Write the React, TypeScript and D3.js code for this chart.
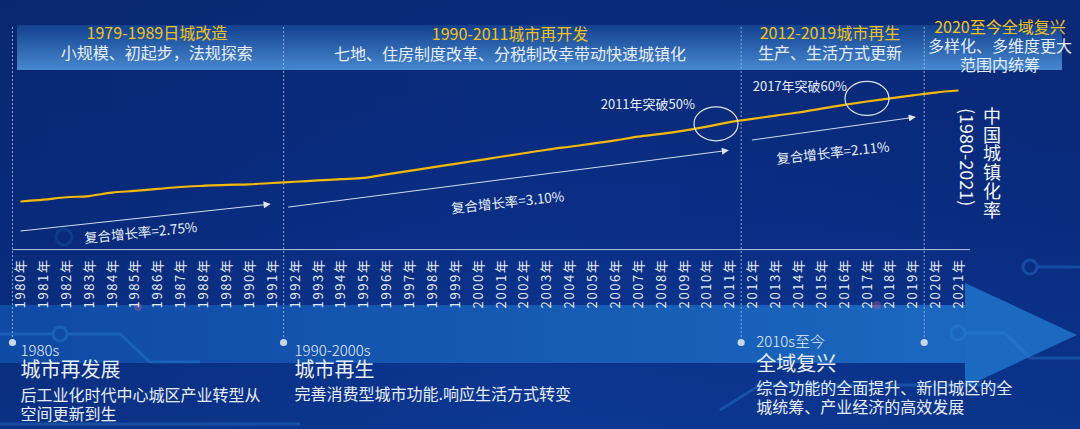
import React, { useEffect } from "react";
import * as d3 from "d3";

// ---------- data ----------
const years = [
  1980, 1981, 1982, 1983, 1984, 1985, 1986, 1987, 1988, 1989,
  1990, 1991, 1992, 1993, 1994, 1995, 1996, 1997, 1998, 1999,
  2000, 2001, 2002, 2003, 2004, 2005, 2006, 2007, 2008, 2009,
  2010, 2011, 2012, 2013, 2014, 2015, 2016, 2017, 2018, 2019,
  2020, 2021,
];
const urbanization = [
  19.39, 20.16, 21.13, 21.62, 23.01, 23.71, 24.52, 25.32, 25.81, 26.21,
  26.41, 26.94, 27.46, 27.99, 28.51, 29.04, 30.48, 31.91, 33.35, 34.78,
  36.22, 37.66, 39.09, 40.53, 41.76, 42.99, 44.34, 45.89, 46.99, 48.34,
  49.95, 51.83, 53.1, 54.49, 55.75, 57.33, 58.84, 60.24, 61.5, 62.71,
  63.89, 64.72,
];
const periodBounds = [1979.65, 1991.5, 2011.5, 2019.5];
const periodTitles = ["1979-1989日城改造", "1990-2011城市再开发", "2012-2019城市再生", "2020至今全域复兴"];
const periodSubtitles = [
  ["小规模、初起步，法规探索"],
  ["七地、住房制度改革、分税制改幸带动快速城镇化"],
  ["生产、生活方式更新"],
  ["多样化、多维度更大", "范围内统筹"],
];
const growthLabels = ["复合增长率=2.75%", "复合增长率=3.10%", "复合增长率=2.11%"];
const growthFrom = [1980, 1991.7, 2011.97];
const growthTo = [1990.9, 2010.93, 2019.1];
const milestoneLabels = ["2011年突破50%", "2017年突破60%"];
const milestoneYears = [2010.4, 2017];
const eraLabels = ["1980s", "1990-2000s", "2010s至今"];
const eraTitles = ["城市再发展", "城市再生", "全域复兴"];
const eraDesc = [
  ["后工业化时代中心城区产业转型从", "空间更新到生"],
  ["完善消费型城市功能.响应生活方式转变"],
  ["综合功能的全面提升、新旧城区的全", "城统筹、产业经济的高效发展"],
];
const sideTitle = "中国城镇化率";
const sideSubtitle = "(1980-2021)";

// ---------- layout ----------
const W = 1080;
const H = 429;
const FONT = "'Noto Sans CJK SC', 'Noto Sans', sans-serif";
const headerCenterYears = [1985.96, 2001.4, 2015.38, 2022.81];
const headerBaselines = [
  [39, 59],
  [40, 60],
  [39, 59],
  [33, 52],
];
const growthDy0 = [29.5, 25, 21];
const growthDy1 = [21, 28, 22];
const growthTextOffset = [20, 28.5, 29];
const growthTextAngle = [-5.8, -6.2, -6.4];
const growthTextShift = [-4, 0, 0];
const milestoneLayout = [
  { dy: -1, labelDx: -21, labelDy: -15 },
  { dy: -3, labelDx: -20, labelDy: -7 },
];
const eraLayout = [
  { dx: 8, base: [356, 377, 401, 420] },
  { dx: 11, base: [356, 377, 400, 420] },
  { dx: 15, base: [347, 371, 393.5, 413] },
];

const x = d3.scaleLinear().domain([1980, 2021]).range([20.5, 958.5]);
const y = d3
  .scaleLinear()
  .domain(d3.extent(urbanization) as [number, number])
  .range([201.5, 90.5]);

const valueAt = (yr: number) => {
  const i = Math.max(0, Math.min(years.length - 2, Math.floor(yr - years[0])));
  const t = (yr - years[i]) / (years[i + 1] - years[i]);
  return urbanization[i] + (urbanization[i + 1] - urbanization[i]) * t;
};

const lineGen = d3
  .line<number>()
  .x((_, i) => x(years[i]))
  .y((d) => y(d))
  .curve(d3.curveMonotoneX);

export default function App() {
  useEffect(() => {
    document.body.style.margin = "0";
  }, []);

  const dashTop = 27;
  const dotY = 342.5;
  const axisY = 249.6;

  return (
    <svg width={W} height={H} style={{ display: "block", fontFamily: FONT }}>
      <defs>
        <linearGradient id="bg" x1="0" y1="0" x2="0" y2="1">
          <stop offset="0" stopColor="#0a2a79" />
          <stop offset="0.5" stopColor="#0a2e85" />
          <stop offset="1" stopColor="#0c3893" />
        </linearGradient>
        <linearGradient id="bgH" x1="0" y1="0" x2="1" y2="0">
          <stop offset="0" stopColor="#061f5e" stopOpacity="0.3" />
          <stop offset="0.5" stopColor="#061f5e" stopOpacity="0" />
          <stop offset="1" stopColor="#061f5e" stopOpacity="0.15" />
        </linearGradient>
        <linearGradient id="hdr" x1="0" y1="0" x2="0" y2="1">
          <stop offset="0" stopColor="#12418f" />
          <stop offset="1" stopColor="#4788cf" />
        </linearGradient>
        <linearGradient id="band" x1="0" y1="0" x2="1" y2="0">
          <stop offset="0" stopColor="#0f4aa5" />
          <stop offset="1" stopColor="#1b67bf" />
        </linearGradient>
        <marker
          id="ah"
          viewBox="0 0 10 10"
          refX="9"
          refY="5"
          markerWidth="8"
          markerHeight="7"
          markerUnits="userSpaceOnUse"
          orient="auto"
        >
          <path d="M0,0 L10,5 L0,10 z" fill="#dfe6f2" />
        </marker>
      </defs>

      {/* background */}
      <rect x={0} y={0} width={W} height={H} fill="url(#bg)" />
      <rect x={0} y={0} width={W} height={H} fill="url(#bgH)" />

      {/* header band */}
      <rect x={17} y={25} width={1045} height={45} fill="url(#hdr)" />

      {/* bottom arrow band */}
      <rect x={0} y={305} width={966} height={58} fill="url(#band)" />
      <path d="M965,283 L1077,335 L965,387 Z" fill="#1b69c1" />

      {/* decorative circuits */}
      <g fill="none" stroke="#2d86dc" strokeWidth={3} opacity={0.35}>
        <circle cx={1030} cy={267} r={7} />
        <path d="M1037,267 H1080" />
        <circle cx={958} cy={333} r={7} />
        <path d="M965,333 H1005 L1030,358 H1080" />
        <circle cx={60} cy={334} r={7} />
        <path d="M0,334 H53" />
        <path d="M67,334 H120 L150,362 H200" />
        <path d="M720,410 L760,385 H1000" />
        <path d="M0,424 H300" />
      </g>
      <circle cx={64} cy={237} r={8} fill="none" stroke="#2d86dc" strokeWidth={3} opacity={0.18} />
      <circle cx={138} cy={307} r={4} fill="#b05a9a" opacity={0.4} />
      <circle cx={877} cy={305} r={4} fill="#b05a9a" opacity={0.4} />

      {/* period dashed lines + bottom dots */}
      {periodBounds.map((b, i) => (
        <g key={"pb" + i}>
          <line
            x1={x(b)}
            x2={x(b)}
            y1={dashTop}
            y2={dotY}
            stroke="#a9b9d6"
            strokeWidth={1}
            strokeDasharray="2,2"
            opacity={0.85}
          />
          <circle cx={x(b)} cy={dotY} r={3.6} fill="#c9d5ea" />
        </g>
      ))}

      {/* header texts */}
      {periodTitles.map((t, i) => {
        const cx = x(headerCenterYears[i]);
        const [b0, b1] = headerBaselines[i];
        return (
          <g key={"hd" + i} textAnchor="middle">
            <text x={cx} y={b0} fontSize={16} fill="#f3c21a">
              {t}
            </text>
            {periodSubtitles[i].map((s, j) => (
              <text key={j} x={cx} y={b1 + j * 18.5} fontSize={16} fill="#e8eef8">
                {s}
              </text>
            ))}
          </g>
        );
      })}

      {/* axis line */}
      <line x1={x(periodBounds[0])} x2={970} y1={axisY} y2={axisY} stroke="#b8c6de" strokeWidth={1} />

      {/* x tick labels */}
      {years.map((yr) => (
        <text
          key={yr}
          transform={`translate(${x(yr) + 4.6},258.5) rotate(-90)`}
          textAnchor="end"
          fontSize={13}
          letterSpacing="1.6px"
          fill="#e6edf8"
        >
          {yr + "年"}
        </text>
      ))}

      {/* growth arrows */}
      {growthLabels.map((lab, i) => {
        const x0 = x(growthFrom[i]);
        const y0 = y(valueAt(growthFrom[i])) + growthDy0[i];
        const x1 = x(growthTo[i]);
        const y1 = y(valueAt(growthTo[i])) + growthDy1[i];
        const mx = (x0 + x1) / 2 + growthTextShift[i];
        const my = (y0 + y1) / 2 + growthTextOffset[i];
        return (
          <g key={"gr" + i}>
            <line x1={x0} y1={y0} x2={x1} y2={y1} stroke="#d3dcec" strokeWidth={1} markerEnd="url(#ah)" />
            <text
              transform={`translate(${mx},${my}) rotate(${growthTextAngle[i]})`}
              textAnchor="middle"
              fontSize={13.5}
              fill="#e6edf8"
            >
              {lab}
            </text>
          </g>
        );
      })}

      {/* urbanization line */}
      <path d={lineGen(urbanization) || ""} fill="none" stroke="#f5b90a" strokeWidth={2.2} />

      {/* milestones */}
      {milestoneLabels.map((lab, i) => {
        const cx = x(milestoneYears[i]);
        const cy = y(valueAt(milestoneYears[i])) + milestoneLayout[i].dy;
        return (
          <g key={"ms" + i}>
            <ellipse cx={cx} cy={cy} rx={22} ry={17} fill="none" stroke="#dbe3f0" strokeWidth={1.2} />
            <text
              x={cx + milestoneLayout[i].labelDx}
              y={cy + milestoneLayout[i].labelDy}
              textAnchor="end"
              fontSize={13}
              fill="#e6edf8"
            >
              {lab}
            </text>
          </g>
        );
      })}

      {/* side title */}
      <text
        x={992}
        y={107}
        fontSize={18}
        fill="#f2f5fb"
        style={{ writingMode: "vertical-rl", letterSpacing: "0.8px" }}
      >
        {sideTitle}
      </text>
      <text
        transform="translate(968,108) rotate(90)"
        fontSize={18}
        dominantBaseline="central"
        fill="#f2f5fb"
      >
        {sideSubtitle}
      </text>

      {/* bottom era texts */}
      {eraLabels.map((lab, i) => {
        const lx = x(periodBounds[i]) + eraLayout[i].dx;
        const b = eraLayout[i].base;
        return (
          <g key={"er" + i} fill="#e8eef8">
            <text x={lx} y={b[0]} fontSize={15} fontWeight={300}>
              {lab}
            </text>
            <text x={lx} y={b[1]} fontSize={20}>
              {eraTitles[i]}
            </text>
            {eraDesc[i].map((d, j) => (
              <text key={j} x={lx} y={j === 0 ? b[2] : b[3]} fontSize={16}>
                {d}
              </text>
            ))}
          </g>
        );
      })}
    </svg>
  );
}
